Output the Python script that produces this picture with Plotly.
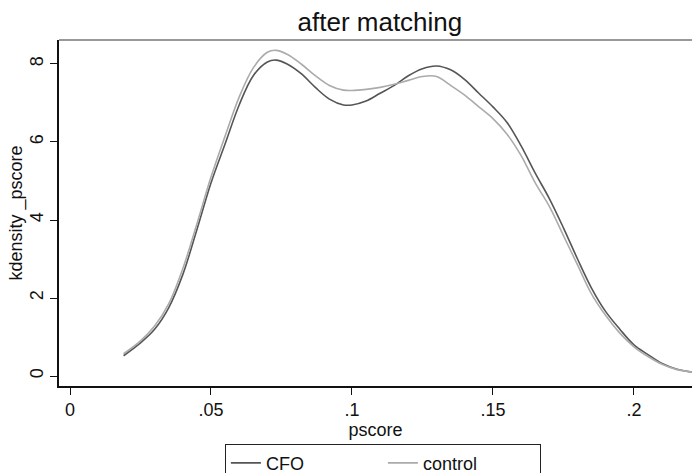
import plotly.graph_objects as go

pscore = [0.019, 0.025, 0.03, 0.035, 0.04, 0.045, 0.05, 0.055, 0.06, 0.065, 0.07, 0.073,
          0.077, 0.082, 0.087, 0.092, 0.097, 0.1, 0.105, 0.11, 0.115, 0.12, 0.125, 0.13,
          0.135, 0.14, 0.145, 0.15, 0.155, 0.16, 0.165, 0.17, 0.175, 0.18, 0.185, 0.19,
          0.195, 0.2, 0.205, 0.21, 0.215, 0.2206]

cfo = [0.52, 0.85, 1.2, 1.75, 2.6, 3.75, 4.95, 5.95, 6.95, 7.7, 8.05, 8.1,
       8.0, 7.75, 7.4, 7.1, 6.95, 6.95, 7.05, 7.25, 7.45, 7.7, 7.88, 7.95,
       7.85, 7.6, 7.25, 6.9, 6.5, 5.9, 5.2, 4.55, 3.8, 3.0, 2.25, 1.65,
       1.2, 0.8, 0.55, 0.32, 0.18, 0.1]

control = [0.57, 0.9, 1.28, 1.85, 2.75, 3.9, 5.1, 6.15, 7.15, 7.9, 8.3, 8.35,
           8.25, 8.0, 7.7, 7.45, 7.33, 7.32, 7.35, 7.4, 7.48, 7.58, 7.68, 7.68,
           7.45, 7.2, 6.9, 6.6, 6.2, 5.65, 4.95, 4.35, 3.6, 2.85, 2.1, 1.55,
           1.1, 0.75, 0.5, 0.3, 0.17, 0.1]

x_ticks = [0, 0.05, 0.1, 0.15, 0.2]
x_ticklabels = ["0", ".05", ".1", ".15", ".2"]
y_ticks = [0, 2, 4, 6, 8]

font = dict(family="Liberation Sans, Arial, sans-serif", color="#111111")

fig = go.Figure()
fig.add_trace(go.Scatter(x=pscore, y=cfo, mode="lines", name="CFO",
                         line=dict(color="#555555", width=1.6, shape="spline")))
fig.add_trace(go.Scatter(x=pscore, y=control, mode="lines", name="control",
                         line=dict(color="#ababab", width=1.6, shape="spline")))

fig.update_layout(
    width=692, height=473,
    margin=dict(l=59, r=0, t=40, b=87, autoexpand=False),
    paper_bgcolor="white", plot_bgcolor="white",
    font=dict(size=18, **font),
    title=dict(text="after matching", x=0.549, xanchor="center", y=0.953, yanchor="middle",
               font=dict(size=26, **font)),
    showlegend=True,
    legend=dict(orientation="h", xref="container", yref="container",
                x=0.325, xanchor="left", y=0.062, yanchor="top",
                bordercolor="#222222", borderwidth=1, bgcolor="white",
                font=dict(size=18, **font), entrywidth=112, entrywidthmode="pixels"),
    xaxis=dict(range=[-0.0039, 0.2206], tickvals=x_ticks, ticktext=x_ticklabels,
               ticks="outside", ticklen=7, tickcolor="#111111", showgrid=False, zeroline=False,
               showline=True, linecolor="#111111", linewidth=1.5, automargin=False,
               tickfont=dict(size=18, **font),
               title=dict(text="pscore", standoff=0, font=dict(size=18, **font))),
    yaxis=dict(range=[-0.256, 8.615], tickvals=y_ticks, tickangle=-90,
               ticks="outside", ticklen=7, tickcolor="#111111", showgrid=False, zeroline=False,
               showline=True, linecolor="#111111", linewidth=1.5, automargin=False,
               tickfont=dict(size=18, **font),
               title=dict(text="kdensity _pscore", standoff=0, font=dict(size=18, **font))),
    shapes=[dict(type="line", xref="paper", yref="paper", x0=0, x1=1, y0=1, y1=1,
                 line=dict(color="#777777", width=1.5))],
)

fig.write_html("out.html", config={"displayModeBar": False},
               post_script="document.body.style.margin='0';")
